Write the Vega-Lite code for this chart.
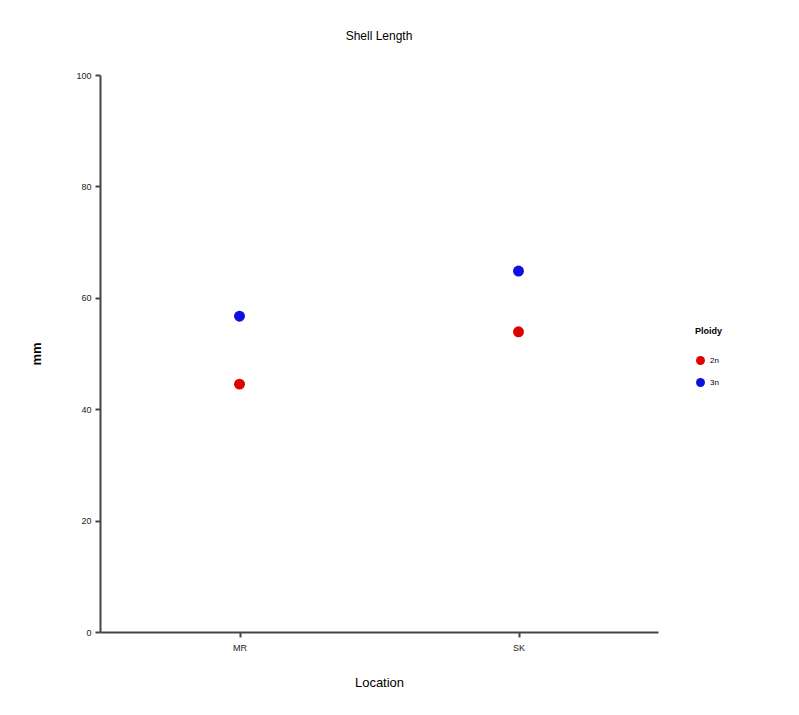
{
  "$schema": "https://vega.github.io/schema/vega-lite/v6.json",
  "autosize": {"type": "none"},
  "width": 558,
  "height": 557,
  "padding": {"left": 100, "top": 75, "right": 141, "bottom": 83},
  "background": "white",
  "title": {"text": "Shell Length", "fontSize": 12, "fontWeight": "normal", "font": "Liberation Sans", "color": "#000", "offset": 28, "anchor": "middle"},
  "data": {"values": [
    {"Location": "MR", "Ploidy": "2n", "mm": 44.5},
    {"Location": "MR", "Ploidy": "3n", "mm": 56.7},
    {"Location": "SK", "Ploidy": "2n", "mm": 53.9},
    {"Location": "SK", "Ploidy": "3n", "mm": 64.8}
  ]},
  "mark": {"type": "point", "filled": true, "size": 120, "opacity": 1},
  "encoding": {
    "x": {"field": "Location", "type": "nominal", "scale": {"type": "point", "padding": 0.5},
      "axis": {"labelAngle": 0, "titleFontWeight": "normal", "titleFontSize": 13, "titlePadding": 24, "labelPadding": 6}},
    "y": {"field": "mm", "type": "quantitative", "scale": {"domain": [0, 100]},
      "axis": {"values": [0, 20, 40, 60, 80, 100], "titleFontSize": 13, "titlePadding": 32}},
    "color": {"field": "Ploidy", "type": "nominal",
      "scale": {"domain": ["2n", "3n"], "range": ["#e00000", "#1010e0"]},
      "legend": {"orient": "none", "legendX": 595, "legendY": 252, "symbolSize": 80, "titleFontSize": 9, "labelFontSize": 8, "rowPadding": 12, "titlePadding": 19}}
  },
  "config": {
    "font": "Liberation Sans",
    "view": {"stroke": null},
    "axis": {"grid": false, "domainColor": "#444", "domainWidth": 2, "tickColor": "#444", "tickWidth": 2, "tickSize": 5, "labelFontSize": 9, "labelColor": "#222", "titleColor": "#000", "labelPadding": 4}
  }
}
